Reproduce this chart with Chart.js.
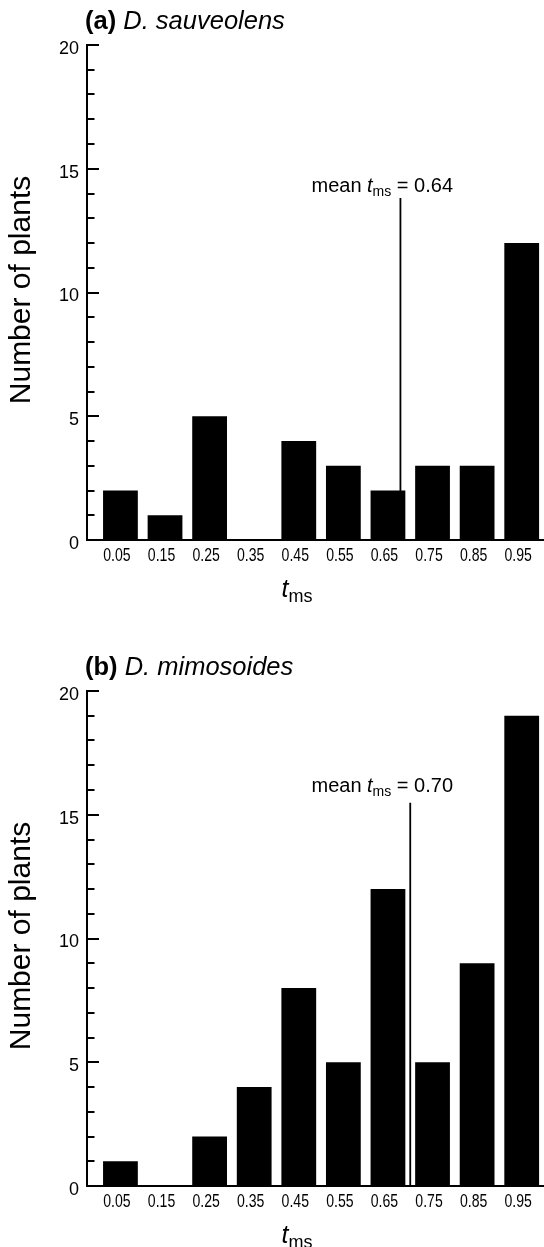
<!DOCTYPE html>
<html><head><meta charset="utf-8">
<script src="https://cdn.jsdelivr.net/npm/chart.js@4.4.0/dist/chart.umd.min.js"></script>
<style>
html,body{margin:0;padding:0;background:#fff;}
body{width:544px;height:1247px;position:relative;overflow:hidden;}
.panel{position:absolute;left:0;width:544px;}
#pa{top:0;height:620px;}
#pb{top:646px;height:601px;}
canvas{display:block;}
</style></head><body>
<div class="panel" id="pa"><canvas id="ca" width="544" height="620"></canvas></div>
<div class="panel" id="pb"><canvas id="cb" width="544" height="601"></canvas></div>
<script>
// ---- data ----
const binCentres = [0.05, 0.15, 0.25, 0.35, 0.45, 0.55, 0.65, 0.75, 0.85, 0.95];
const xTickLabels = ['0.05', '0.15', '0.25', '0.35', '0.45', '0.55', '0.65', '0.75', '0.85', '0.95'];
const countsSauveolens = [2, 1, 5, 0, 4, 3, 2, 3, 3, 12];
const countsMimosoides = [1, 0, 2, 4, 8, 5, 12, 5, 9, 19];
const yTickValues = [0, 5, 10, 15, 20];
const panelLetters = ['(a)', '(b)'];
const speciesNames = ['D. sauveolens', 'D. mimosoides'];
const meanLabels = ['0.64', '0.70'];
const meanMarkerX = [0.678, 0.70];     // where the mean line is drawn in the figure
const meanMarkerTop = [13.82, 15.48];  // top of the mean line (y units)
const meanLabelLevel = [14.34, 16.2];  // vertical centre of the mean label (y units)

const FONT = "'Liberation Sans', Arial, Helvetica, sans-serif";

function decorPlugin(idx) {
  return {
    id: 'decor' + idx,
    afterDraw(chart) {
      const ctx = chart.ctx;
      const xs = chart.scales.x, ys = chart.scales.y;
      const axisX = chart.chartArea.left;
      const axisY = ys.getPixelForValue(0);
      ctx.save();
      ctx.strokeStyle = '#000';
      ctx.fillStyle = '#000';
      // inward ticks
      ctx.lineWidth = 2;
      ys.ticks.forEach(t => {
        if (t.value === 0) return;
        const y = Math.round(ys.getPixelForValue(t.value));
        const len = (t.value % 5 === 0) ? 12 : 7.5;
        ctx.beginPath();
        ctx.moveTo(axisX - 1, y);
        ctx.lineTo(axisX + len, y);
        ctx.stroke();
      });
      // y tick labels
      ctx.font = '18px ' + FONT;
      ctx.textAlign = 'right';
      ctx.textBaseline = 'middle';
      yTickValues.forEach(v => {
        ctx.fillText(String(v), axisX - 8, ys.getPixelForValue(v) + 4);
      });
      // x tick labels (condensed)
      ctx.textAlign = 'center';
      ctx.textBaseline = 'middle';
      ctx.font = '19px ' + FONT;
      binCentres.forEach((c, i) => {
        const px = xs.getPixelForValue(c) - 3.5;
        ctx.save();
        ctx.translate(px, axisY + 16);
        ctx.scale(0.74, 1);
        ctx.fillText(xTickLabels[i], 0, 0);
        ctx.restore();
      });
      // mean line
      const mx = xs.getPixelForValue(meanMarkerX[idx]);
      const yTop = ys.getPixelForValue(meanMarkerTop[idx]);
      ctx.lineWidth = 1.8;
      ctx.beginPath();
      ctx.moveTo(mx, yTop);
      ctx.lineTo(mx, axisY);
      ctx.stroke();
      // mean label "mean t_ms = 0.64", right end at 453
      const fMain = '20px ' + FONT, fIt = 'italic 20px ' + FONT, fSub = '14px ' + FONT;
      ctx.textAlign = 'left';
      ctx.textBaseline = 'alphabetic';
      const parts = [
        ['mean ', fMain, 0], ['t', fIt, 0], ['ms', fSub, 4], [' = ' + meanLabels[idx], fMain, 0]
      ];
      let w = 0;
      parts.forEach(p => { ctx.font = p[1]; w += ctx.measureText(p[0]).width; });
      let x = 453 - w;
      const base = ys.getPixelForValue(meanLabelLevel[idx]) + 7;
      parts.forEach(p => { ctx.font = p[1]; ctx.fillText(p[0], x, base + p[2]); x += ctx.measureText(p[0]).width; });
      // panel title
      ctx.font = 'bold 25.5px ' + FONT;
      ctx.fillText(panelLetters[idx], 85, 29);
      let tx = 85 + ctx.measureText(panelLetters[idx] + ' ').width;
      ctx.font = 'italic 25.5px ' + FONT;
      ctx.fillText(speciesNames[idx], tx, 29);
      // x axis title t_ms
      ctx.font = 'italic 25px ' + FONT;
      const tW = ctx.measureText('t').width;
      ctx.font = '18px ' + FONT;
      const msW = ctx.measureText('ms').width;
      let xx = 297 - (tW + msW) / 2;
      ctx.font = 'italic 25px ' + FONT;
      ctx.fillText('t', xx, 597);
      ctx.font = '18px ' + FONT;
      ctx.fillText('ms', xx + tW, 602);
      // y axis title
      ctx.translate(22, 290);
      ctx.rotate(-Math.PI / 2);
      ctx.textAlign = 'center';
      ctx.textBaseline = 'middle';
      ctx.font = '30px ' + FONT;
      ctx.fillText('Number of plants', 0, 0);
      ctx.restore();
    }
  };
}

function makeChart(canvasId, counts, idx) {
  const H = document.getElementById(canvasId).height;
  return new Chart(document.getElementById(canvasId), {
    type: 'bar',
    data: {
      datasets: [{
        data: binCentres.map((c, i) => ({ x: c, y: counts[i] })),
        backgroundColor: '#000',
        borderWidth: 0,
        barPercentage: 0.78,
        categoryPercentage: 1.0
      }]
    },
    options: {
      responsive: false,
      animation: false,
      devicePixelRatio: 1,
      layout: { padding: { top: 45, left: 0, right: 0, bottom: 0 } },
      plugins: { legend: { display: false }, tooltip: { enabled: false }, title: { display: false } },
      scales: {
        x: {
          type: 'linear',
          min: -0.025,
          max: 1.0,
          offset: false,
          grid: { display: false },
          border: { display: true, color: '#000', width: 2 },
          afterBuildTicks: s => { s.ticks = binCentres.map(v => ({ value: v })); },
          afterFit: s => { s.height = H - 540; },
          ticks: { display: false }
        },
        y: {
          min: 0,
          max: 20,
          grid: { display: false },
          border: { display: true, color: '#000', width: 2 },
          afterFit: s => { s.width = 87; },
          ticks: { display: false, stepSize: 1 }
        }
      }
    },
    plugins: [decorPlugin(idx)]
  });
}

makeChart('ca', countsSauveolens, 0);
makeChart('cb', countsMimosoides, 1);
</script>
</body></html>
